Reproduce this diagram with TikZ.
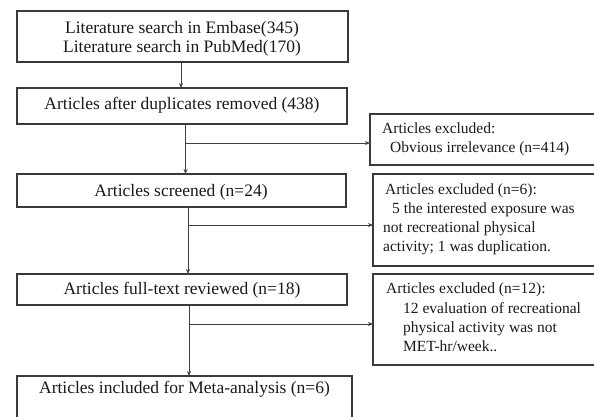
\documentclass[tikz,border=0pt]{standalone}
\usepackage{fontspec}
\setmainfont{Liberation Serif}
\usetikzlibrary{arrows.meta}
\definecolor{boxc}{HTML}{3A3A3A}
\definecolor{linec}{HTML}{404040}
\definecolor{txtc}{HTML}{1A1A1A}
\begin{document}
\begin{tikzpicture}[x=1pt,y=-1pt,
  box/.style={draw=boxc,line width=1.2pt,anchor=north west,inner sep=0pt,outer sep=0pt},
  mtxt/.style={anchor=base,font=\fontsize{17.5}{19}\selectfont,text=txtc,inner sep=0pt},
  etxt/.style={anchor=base west,font=\fontsize{15.5}{19}\selectfont,text=txtc,inner sep=0pt},
  arr/.style={draw=linec,line width=1pt,-{Stealth[length=5pt,width=4pt]}},
  ln/.style={draw=linec,line width=1pt}]
\path[use as bounding box] (0,0) rectangle (594,416);
\clip (0,0) rectangle (594,416);
\fill[white] (0,0) rectangle (594,416);

% main boxes
\node[box,minimum width=331pt,minimum height=51pt] (b1) at (17,11) {};
\node[box,minimum width=330pt,minimum height=36pt] (b2) at (17,88) {};
\node[box,minimum width=329pt,minimum height=33pt] (b3) at (17,174) {};
\node[box,minimum width=330pt,minimum height=31pt] (b4) at (17,274) {};
\node[box,minimum width=335pt,minimum height=60pt] (b5) at (17,376) {};

% exclusion boxes
\node[box,minimum width=240pt,minimum height=51pt] (e1) at (370,114) {};
\node[box,minimum width=240pt,minimum height=92pt] (e2) at (373,174) {};
\node[box,minimum width=240pt,minimum height=91pt] (e3) at (373,274) {};

% main texts
\node[mtxt] (t1a) at (182,33) {Literature search in Embase(345)};
\node[mtxt] (t1b) at (182,52) {Literature search in PubMed(170)};
\node[mtxt] (t2) at (182,109) {Articles after duplicates removed (438)};
\node[mtxt] (t3) at (181,196) {Articles screened (n=24)};
\node[mtxt] (t4) at (182,294) {Articles full-text reviewed (n=18)};
\node[mtxt] (t5) at (184.5,393) {Articles included for Meta-analysis (n=6)};

% exclusion texts
\node[etxt] (x1a) at (382,133) {Articles excluded:};
\node[etxt] (x1b) at (390,152) {Obvious irrelevance (n=414)};
\node[etxt] (x2a) at (385,194) {Articles excluded (n=6):};
\node[etxt] (x2b) at (392,213) {5 the interested exposure was};
\node[etxt] (x2c) at (383,232) {not recreational physical};
\node[etxt] (x2d) at (383,251) {activity; 1 was duplication.};
\node[etxt] (x3a) at (386,293) {Articles excluded (n=12):};
\node[etxt] (x3b) at (403,313) {12 evaluation of recreational};
\node[etxt] (x3c) at (403,332) {physical activity was not};
\node[etxt] (x3d) at (403,351) {MET-hr/week..};

% connector coordinates
\coordinate (k1) at (181,0);
\coordinate (k2) at (185.5,0);
\coordinate (k3) at (188,0);
\coordinate (k4) at (189,0);
\coordinate (j1) at (185.5,143);
\coordinate (j2) at (188,225);
\coordinate (j3) at (189,324);

\draw[arr] (b1.south -| k1) -- (b2.north -| k1);
\draw[arr] (b2.south -| k2) -- (b3.north -| k2);
\draw[arr] (b3.south -| k3) -- (b4.north -| k3);
\draw[arr] (b4.south -| k4) -- (b5.north -| k4);
\draw[arr] (j1) -- (e1.west |- j1);
\draw[arr] (j2) -- (e2.west |- j2);
\draw[arr] (j3) -- (e3.west |- j3);
\end{tikzpicture}
\end{document}
